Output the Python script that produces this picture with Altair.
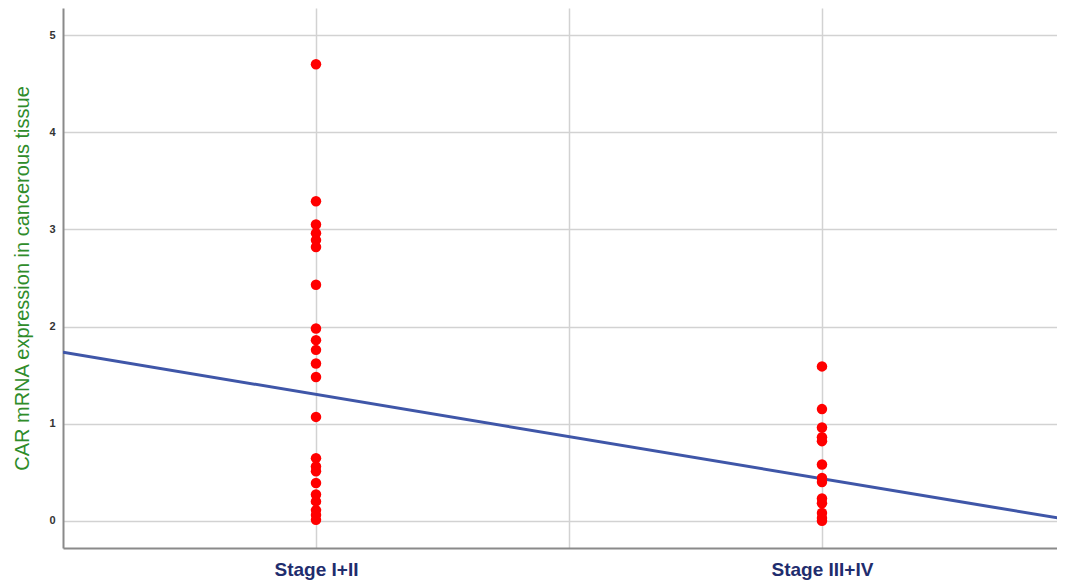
import altair as alt
import pandas as pd

# Categories and their positions on the x scale
stages = ["Stage I+II", "Stage III+IV"]
stage_pos = [1, 3]

# CAR mRNA expression values
stage12_values = [4.70, 3.29, 3.05, 2.96, 2.89, 2.82, 2.43, 1.98, 1.86, 1.76,
                  1.62, 1.48, 1.07, 0.645, 0.56, 0.51, 0.39, 0.27, 0.20, 0.11,
                  0.06, 0.01]
stage34_values = [1.59, 1.15, 0.96, 0.86, 0.82, 0.58, 0.44, 0.40, 0.23, 0.18,
                  0.08, 0.03, 0.00]

# Fit line end points
line_x = [0, 4]
line_y = [1.735, 0.0]

y_ticks = [0, 1, 2, 3, 4, 5]
x_grid = [1, 2, 3]

pts = pd.DataFrame({
    "x": [stage_pos[0]] * len(stage12_values) + [stage_pos[1]] * len(stage34_values),
    "y": stage12_values + stage34_values,
})
fit = pd.DataFrame({"x": line_x, "y": line_y})

label_expr = " : ".join(
    [f"datum.value == {p} ? '{s}'" for p, s in zip(stage_pos, stages)]
) + " : ''"

x_scale = alt.Scale(domain=[0, 3.929], nice=False, zero=False)
y_scale = alt.Scale(domain=[-0.28, 5.28], nice=False, zero=False)

x_axis = alt.Axis(
    values=x_grid, labelExpr=label_expr, title=None, ticks=False,
    labelPadding=12, labelFontSize=19, labelFontWeight="bold",
    labelColor="#1f2d6e", labelFont="Liberation Sans",
    domainColor="#8a8a8a", domainWidth=2, gridColor="#d2d2d2", gridWidth=1.5,
)
y_axis = alt.Axis(
    values=y_ticks, format="d", title="CAR mRNA expression in cancerous tissue",
    ticks=False, labelPadding=8, labelFontSize=11, labelFont="Liberation Sans",
    labelColor="#333333", labelFontWeight="bold",
    titleFontSize=20, titleFont="Liberation Sans", titleFontWeight="normal",
    titleColor="#2f8c2a", titlePadding=16,
    domainColor="#8a8a8a", domainWidth=2, gridColor="#d2d2d2", gridWidth=1.5,
)

points = alt.Chart(pts).mark_circle(size=110, color="#ff0000", opacity=1).encode(
    x=alt.X("x:Q", scale=x_scale, axis=x_axis),
    y=alt.Y("y:Q", scale=y_scale, axis=y_axis),
)

line = alt.Chart(fit).mark_line(color="#3f56a8", strokeWidth=3, clip=True).encode(
    x=alt.X("x:Q", scale=x_scale),
    y=alt.Y("y:Q", scale=y_scale),
)

chart = alt.layer(line, points).properties(
    width=994, height=540,
    autosize=alt.AutoSizeParams(type="none"),
    padding={"left": 55, "top": 0, "right": 0, "bottom": 34},
).configure_view(strokeWidth=0)

chart.save("out.html", embed_options={"renderer": "svg", "actions": False})
